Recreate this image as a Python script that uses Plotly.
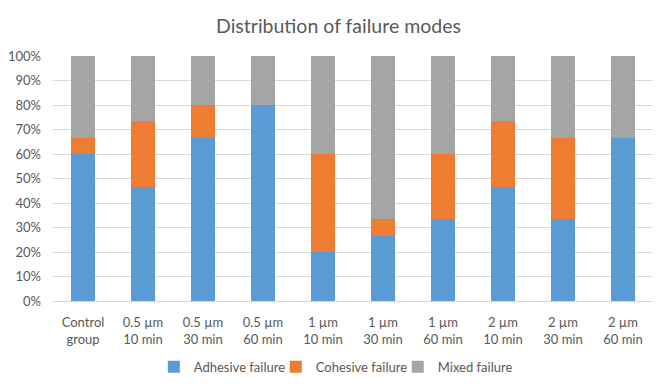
import plotly.graph_objects as go

categories = ["Control<br>group", "0.5 µm<br>10 min", "0.5 µm<br>30 min", "0.5 µm<br>60 min",
              "1 µm<br>10 min", "1 µm<br>30 min", "1 µm<br>60 min",
              "2 µm<br>10 min", "2 µm<br>30 min", "2 µm<br>60 min"]
adhesive = [9, 7, 10, 12, 3, 4, 5, 7, 5, 10]
cohesive = [1, 4, 2, 0, 6, 1, 4, 4, 5, 0]
mixed = [5, 4, 3, 3, 6, 10, 6, 4, 5, 5]

FONT = "Lato"
TXT = "#595959"

fig = go.Figure()
for name, vals, col in [("Adhesive failure", adhesive, "#5B9BD5"),
                        ("Cohesive failure", cohesive, "#ED7D31"),
                        ("Mixed failure", mixed, "#A5A5A5")]:
    fig.add_trace(go.Bar(x=categories, y=vals, name=name, marker_color=col,
                         marker_line_width=0))

# page body has an 8px margin, so the figure is sized 8px smaller each way
fig.update_layout(
    width=661, height=381,
    barmode="stack", barnorm="fraction", bargap=0.6,
    paper_bgcolor="white", plot_bgcolor="white",
    margin=dict(l=45, r=16, t=48, b=88, autoexpand=False),
    font=dict(family=FONT, size=13, color=TXT),
    title=dict(text="Distribution of failure modes", x=0.5, xanchor="center",
               yref="container", y=0.953, yanchor="middle",
               font=dict(family=FONT, size=19.5, color=TXT)),
    legend=dict(orientation="h", x=0.168, xanchor="left", yref="container", y=0.058,
                yanchor="middle", font=dict(family=FONT, size=13, color=TXT),
                itemwidth=30, entrywidth=77, entrywidthmode="pixels",
                traceorder="normal", tracegroupgap=0),
    showlegend=True,
)
fig.update_yaxes(range=[0, 1], dtick=0.1, tickformat=".0%", gridcolor="#D9D9D9",
                 gridwidth=1, zeroline=False, showline=False, ticks="",
                 ticklabelstandoff=11, automargin=False)
fig.update_xaxes(showline=True, linecolor="#D9D9D9", linewidth=1, ticks="", tickangle=0,
                 ticklabelstandoff=9, automargin=False)

fig.write_html("out.html")
